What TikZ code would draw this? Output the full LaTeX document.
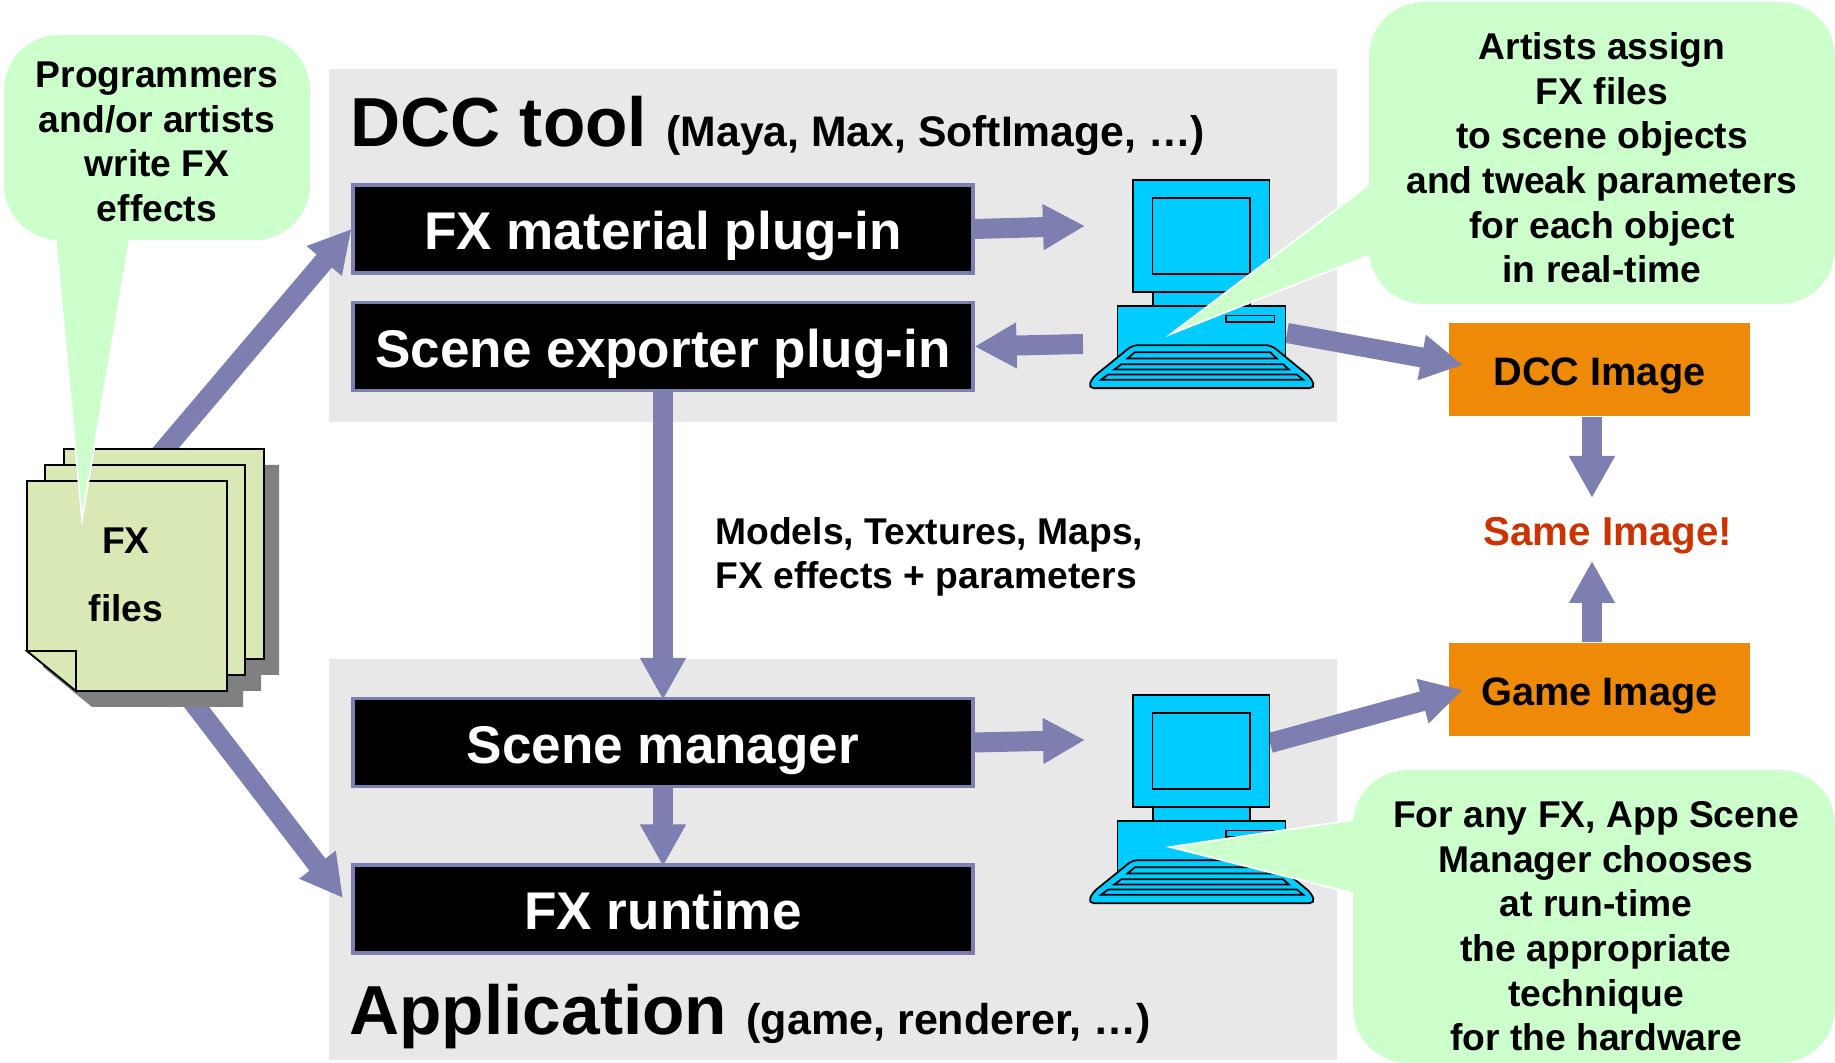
\documentclass[tikz,border=0pt]{standalone}
\usepackage{fontspec}
\setmainfont{Liberation Sans}
\usetikzlibrary{arrows.meta}

\definecolor{panelgray}{HTML}{E8E8E8}
\definecolor{fatblue}{HTML}{7D7FB0}
\definecolor{bubblegreen}{HTML}{CCFFCC}
\definecolor{sheetgreen}{HTML}{D9E9B5}
\definecolor{imgorange}{HTML}{EE8A08}
\definecolor{pccyan}{HTML}{00CCFF}
\definecolor{samered}{HTML}{CC3300}

\newcommand{\sheetpath}{(0,0) -- (2,0) -- (2,-2.1) -- (0.49,-2.1) -- (0,-1.7) -- cycle}

\tikzset{
	fatarrow/.style={draw=fatblue, line width=0.2cm, -{Triangle[length=0.42cm,width=0.43cm]}},
	blackbox/.style={fill=black, draw=fatblue, line width=0.9pt, text=white, minimum width=6.2cm, minimum height=0.88cm, inner ysep=0pt, text height=15.9pt, text depth=4pt, font=\fontsize{15.1}{18}\selectfont\bfseries},
	imgbox/.style={fill=imgorange, minimum width=3.01cm, minimum height=0.93cm, inner ysep=0pt, text height=12.5pt, text depth=3.6pt, font=\fontsize{11.3}{13}\selectfont\bfseries},
	bubble/.style={fill=bubblegreen, rounded corners=0.55cm},
	bubbletext/.style={align=center, font=\fontsize{10.6}{12.7}\selectfont\bfseries},
	wedge/.style={fill=bubblegreen, draw=white, line width=0.5pt},
	bodytext/.style={align=left, font=\fontsize{10.6}{12.7}\selectfont\bfseries},
	sheet/.style={fill=sheetgreen, draw=black, line width=0.5pt},
	pcpart/.style={fill=pccyan, draw=black, line width=0.5pt},
	pcunit/.pic={
		\begin{scope}[x=0.00333cm,y=-0.00333cm]
			\draw[pcpart] (280,428) rectangle (572,470);
			\draw[pcpart] (220,90) rectangle (630,428);
			\draw[pcpart] (278,145) rectangle (572,372);
			\draw[pcpart] (173,470) rectangle (678,625);
			\draw[pcpart] (500,498) rectangle (645,517);
			\draw[pcpart, rounded corners=1.5pt] (218,587) -- (635,587) -- (755,685) -- (767,716) -- (85,716) -- (97,685) -- cycle;
			\draw[pcpart] (225,608) -- (632,608) -- (652,627) -- (203,627) -- cycle;
			\draw[pcpart] (185,644) -- (670,644) -- (688,660) -- (163,660) -- cycle;
			\draw[pcpart] (145,675) -- (712,675) -- (732,691) -- (123,691) -- cycle;
		\end{scope}
	}
}

\begin{document}
\begin{tikzpicture}
	\useasboundingbox (0,0) rectangle (18.35,10.63);

	\fill[panelgray] (3.29,9.94) rectangle (13.37,6.41);
	\fill[panelgray] (3.29,4.04) rectangle (13.37,0.03);

	\draw (3.38,9.16) node[anchor=base west, font=\bfseries] (dcctitle) {\fontsize{19.75}{24}\selectfont DCC tool \fontsize{12.15}{14}\selectfont (Maya, Max, SoftImage, …)};
	\draw (3.37,0.28) node[anchor=base west, font=\bfseries] (apptitle) {\fontsize{19.75}{24}\selectfont Application \fontsize{12.25}{14}\selectfont (game, renderer, …)};

	\draw (6.63,8.34) node[blackbox] (fxmat) {FX material plug-in};
	\draw (6.63,7.165) node[blackbox] (sceneexp) {Scene exporter plug-in};
	\draw (6.63,3.205) node[blackbox] (scenemgr) {Scene manager};
	\draw (6.63,1.54) node[blackbox] (fxrun) {FX runtime};

	\draw (15.995,6.935) node[imgbox] (dccimg) {DCC Image};
	\draw (15.995,3.73) node[imgbox] (gameimg) {Game Image};
	\draw (16.08,5.27) node[font=\fontsize{11.47}{13}\selectfont\bfseries, text=samered] (sameimg) {Same Image!};

	\draw (7.03,5.06) node[bodytext, anchor=west] (payload) {Models, Textures, Maps,\\FX effects + parameters};

	\coordinate (pcdccin) at (10.85,8.37);
	\coordinate (pcdccback) at (10.83,7.19);
	\coordinate (pcdccrun) at (12.87,7.30);
	\coordinate (dcctip) at (14.63,6.98);
	\coordinate (pcgamein) at (10.85,3.23);
	\coordinate (pcgamerun) at (12.70,3.20);
	\coordinate (gametip) at (14.63,3.73);
	\coordinate (dccout) at (15.92,6.46);
	\coordinate (sametop) at (15.92,5.65);
	\coordinate (gameout) at (15.92,4.21);
	\coordinate (samebot) at (15.92,5.02);
	\coordinate (stacktop) at (1.47,5.93);
	\coordinate (stackbot) at (1.82,3.75);
	\coordinate (runtip) at (3.43,1.65);

	\draw[fatarrow] (stacktop) -- (fxmat.west);
	\draw[fatarrow] (stackbot) -- (runtip);
	\draw[fatarrow] (fxmat.east) -- (pcdccin);
	\draw[fatarrow] (pcdccback) -- (sceneexp.east);
	\draw[fatarrow, shorten >=-0.03cm] (sceneexp.south) -- (scenemgr.north);
	\draw[fatarrow, shorten >=-0.03cm] (scenemgr.south) -- (fxrun.north);
	\draw[fatarrow] (scenemgr.east) -- (pcgamein);
	\draw[fatarrow] (pcdccrun) -- (dcctip);
	\draw[fatarrow] (pcgamerun) -- (gametip);
	\draw[fatarrow] (dccout) -- (sametop);
	\draw[fatarrow] (gameout) -- (samebot);

	\pic (pcdcc) at (10.60,9.13) {pcunit};
	\pic (pcgame) at (10.60,3.98) {pcunit};

	\fill[gray, shift={(0.79,5.98)}] \sheetpath;
	\fill[gray, shift={(0.61,5.82)}] \sheetpath;
	\fill[gray, shift={(0.43,5.66)}] \sheetpath;
	\draw[sheet, shift={(0.64,6.14)}] \sheetpath;
	\draw[sheet, shift={(0.45,5.98)}] \sheetpath;
	\draw[sheet, shift={(0.27,5.82)}] \sheetpath;
	\draw[sheet] (0.27,4.12) -- (0.76,4.12) -- (0.76,3.72) -- cycle;
	\draw (1.26,5.22) node[bubbletext] (fxword) {FX};
	\draw (1.26,4.55) node[bubbletext] (fileword) {files};

	\draw[wedge] (0.82,5.44) -- (0.55,8.30) -- (1.31,8.30) -- cycle;
	\draw[wedge] (11.71,7.29) -- (13.75,8.83) -- (13.75,8.10) -- cycle;
	\draw[wedge] (11.70,2.16) -- (13.60,2.44) -- (13.60,1.68) -- cycle;

	\fill[bubble] (0.04,10.28) rectangle (3.10,8.23);
	\fill[bubble] (13.69,10.61) rectangle (18.35,7.59);
	\fill[bubble] (13.53,2.93) rectangle (18.35,0);

	\draw (1.57,9.21) node[bubbletext] (progbubble) {Programmers\\and/or artists\\write FX\\effects};
	\draw (16.02,9.05) node[bubbletext] (artistbubble) {Artists assign\\FX files\\to scene objects\\and tweak parameters\\for each object\\in real-time};
	\draw (15.96,1.365) node[bubbletext] (appbubble) {For any FX, App Scene\\Manager chooses\\at run-time\\the appropriate\\technique\\for the hardware};
\end{tikzpicture}
\end{document}
